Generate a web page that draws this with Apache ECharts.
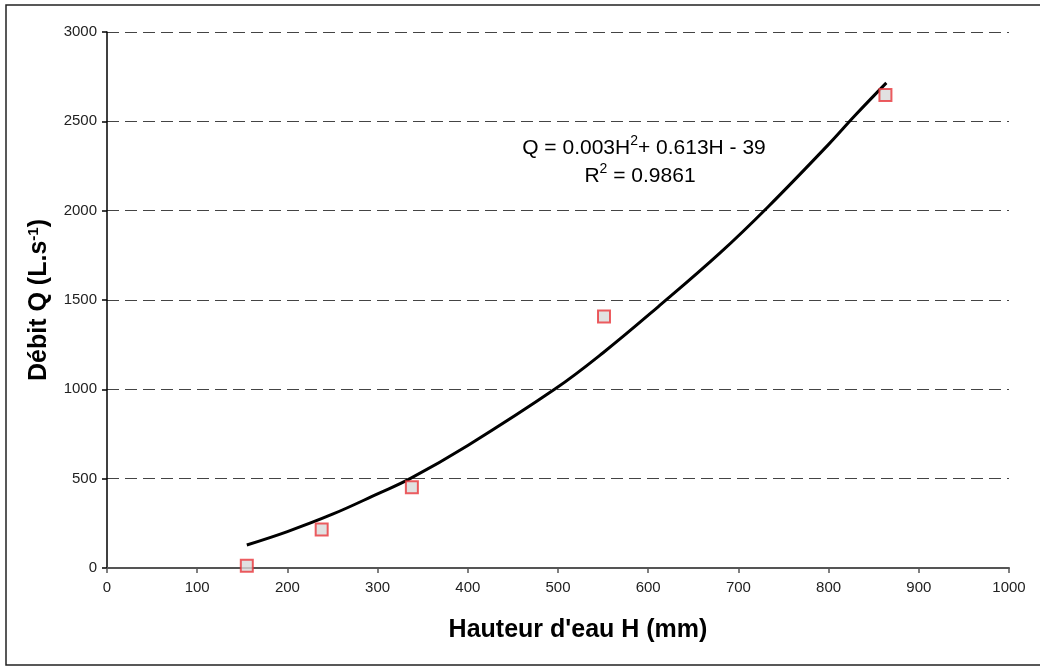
<!DOCTYPE html>
<html>
<head>
<meta charset="utf-8">
<script src="https://cdn.jsdelivr.net/npm/echarts@6/dist/echarts.min.js"></script>
<style>html,body{margin:0;padding:0;background:#fff}#c{width:1040px;height:666px}</style>
</head>
<body>
<div id="c"></div>
<script>
// Measured points
const hauteur = [155, 238, 338, 551, 863];
const debit = [12, 215, 452, 1408, 2648];
// Trend curve
const trendH = [155, 200, 250, 300, 336, 400, 497, 550, 611, 680, 733, 800, 829, 864];
const trendQ = [129, 204, 301, 415, 500, 686, 1003, 1205, 1462, 1765, 2022, 2371, 2531, 2715];
const yTicks = [0, 500, 1000, 1500, 2000, 2500, 3000];
const xTicks = [0, 100, 200, 300, 400, 500, 600, 700, 800, 900, 1000];

const font = '"Liberation Sans", Arial, sans-serif';
const chart = echarts.init(document.getElementById('c'));
chart.setOption({
  animation: false,
  backgroundColor: '#fff',
  grid: { left: 107, right: 31, top: 32, bottom: 98 },
  xAxis: {
    type: 'value', min: xTicks[0], max: xTicks[xTicks.length - 1], interval: 100,
    name: "Hauteur d'eau H (mm)", nameLocation: 'middle', nameGap: 50,
    nameTextStyle: { fontFamily: font, fontWeight: 'bold', fontSize: 25, color: '#000', padding: [0, 0, 0, 40] },
    axisLine: { lineStyle: { color: '#555', width: 2 } },
    axisTick: { show: true, length: 5, lineStyle: { color: '#555', width: 1.5 } },
    axisLabel: { fontFamily: font, fontSize: 15, color: '#222', margin: 12, formatter: v => String(v) },
    splitLine: { show: false }
  },
  yAxis: {
    type: 'value', min: yTicks[0], max: yTicks[yTicks.length - 1], interval: 500,
    name: 'Débit Q (L.s{sup|-1})', nameLocation: 'middle', nameGap: 54,
    nameTextStyle: {
      fontFamily: font, fontWeight: 'bold', fontSize: 25, color: '#000',
      rich: { sup: { fontFamily: font, fontWeight: 'bold', fontSize: 15, verticalAlign: 'top', color: '#000', padding: [0, 0, 12, 0] } }
    },
    axisLine: { show: true, lineStyle: { color: '#000', width: 1.5 } },
    axisTick: { show: true, length: 5, lineStyle: { color: '#000', width: 1.5 } },
    axisLabel: { fontFamily: font, fontSize: 15, color: '#222', margin: 10, formatter: v => String(v) },
    splitLine: { show: true, lineStyle: { color: '#444', type: [12, 6], width: 1.2 } }
  },
  graphic: [
    { type: 'rect', shape: { x: 6, y: 5, width: 1045, height: 660 }, style: { fill: 'none', stroke: '#222', lineWidth: 1.5 }, silent: true },
    { type: 'text', x: 644, y: 134, style: {
        text: 'Q = 0.003H{s|2}+ 0.613H - 39', align: 'center', fontFamily: font, fontSize: 21, fill: '#000',
        rich: { s: { fontFamily: font, fontSize: 14, fill: '#000', verticalAlign: 'top', padding: [0, 0, 14, 0] } } } },
    { type: 'text', x: 640, y: 162, style: {
        text: 'R{s|2} = 0.9861', align: 'center', fontFamily: font, fontSize: 21, fill: '#000',
        rich: { s: { fontFamily: font, fontSize: 14, fill: '#000', verticalAlign: 'top', padding: [0, 0, 14, 0] } } } }
  ],
  series: [
    {
      type: 'line', data: trendH.map((h, i) => [h, trendQ[i]]), smooth: 0.4, showSymbol: false,
      lineStyle: { color: '#000', width: 3 }, z: 3
    },
    {
      type: 'scatter', data: hauteur.map((h, i) => [h, debit[i]]), symbol: 'rect', symbolSize: 12,
      itemStyle: { color: '#d9d9d9', borderColor: '#e8343a', borderWidth: 2 }, z: 4
    }
  ]
});
</script>
</body>
</html>
